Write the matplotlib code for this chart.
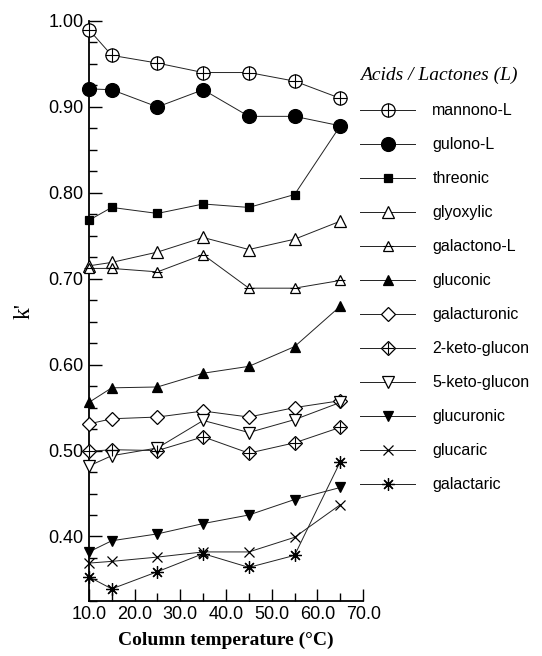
import numpy as np
import matplotlib
matplotlib.use("Agg")
from matplotlib import pyplot as plt
from matplotlib.ticker import MultipleLocator, FormatStrFormatter

plt.rcParams['font.family'] = ['Liberation Sans', 'DejaVu Sans']

temps = [10, 15, 25, 35, 45, 55, 65]

mannono_l = [0.990, 0.960, 0.951, 0.940, 0.940, 0.930, 0.910]
gulono_l = [0.921, 0.920, 0.900, 0.920, 0.889, 0.889, 0.878]
threonic = [0.768, 0.783, 0.776, 0.787, 0.783, 0.798, 0.878]
glyoxylic = [0.715, 0.719, 0.731, 0.748, 0.734, 0.746, 0.767]
galactono_l = [0.712, 0.712, 0.708, 0.728, 0.689, 0.689, 0.698]
gluconic = [0.556, 0.573, 0.574, 0.590, 0.598, 0.621, 0.668]
galacturonic = [0.531, 0.537, 0.539, 0.546, 0.539, 0.550, 0.558]
keto2_glucon = [0.499, 0.501, 0.500, 0.516, 0.497, 0.509, 0.527]
keto5_glucon = [0.482, 0.494, 0.503, 0.535, 0.521, 0.536, 0.556]
glucuronic = [0.382, 0.395, 0.403, 0.415, 0.425, 0.443, 0.457]
glucaric = [0.369, 0.371, 0.376, 0.382, 0.382, 0.399, 0.437]
galactaric = [0.353, 0.339, 0.359, 0.380, 0.364, 0.378, 0.487]

labels = ['mannono-L', 'gulono-L', 'threonic', 'glyoxylic', 'galactono-L',
          'gluconic', 'galacturonic', '2-keto-glucon', '5-keto-glucon',
          'glucuronic', 'glucaric', 'galactaric']
series = [mannono_l, gulono_l, threonic, glyoxylic, galactono_l, gluconic,
          galacturonic, keto2_glucon, keto5_glucon, glucuronic, glucaric,
          galactaric]

# marker, size, filled, extra overlay marker (or None), overlay size
styles = [
    ('o', 9.5, False, '+', 9.5),
    ('o', 10, True, None, 0),
    ('s', 6, True, None, 0),
    ('^', 8.5, False, None, 0),
    ('^', 7, False, '_', 7),
    ('^', 6.5, True, None, 0),
    ('D', 7.5, False, None, 0),
    ('D', 7.5, False, '+', 8),
    ('v', 8, False, None, 0),
    ('v', 6.5, True, None, 0),
    ('x', 7, False, None, 0),
    ((8, 2, 0), 9, False, None, 0),
]

fig = plt.figure(figsize=(5.42, 6.56), dpi=100)
ax = fig.add_axes([0.164, 0.084, 0.506, 0.884])

handles = []
for vals, (mk, ms, filled, extra, ems) in zip(series, styles):
    line, = ax.plot(temps, vals, color='#222222', lw=0.7, marker=mk, ms=ms,
                    mfc='black' if filled else 'white', mec='black', mew=0.9,
                    clip_on=False, zorder=3)
    if extra is not None:
        over, = ax.plot(temps, vals, ls='none', marker=extra, ms=ems,
                        color='black', mew=0.8, clip_on=False, zorder=4)
        handles.append((line, over))
    else:
        handles.append(line)

ax.set_xlim(10, 70)
ax.set_ylim(0.325, 1.00)
ax.xaxis.set_major_locator(MultipleLocator(10))
ax.xaxis.set_minor_locator(MultipleLocator(5))
ax.yaxis.set_major_locator(MultipleLocator(0.1))
ax.yaxis.set_minor_locator(MultipleLocator(0.025))
ax.xaxis.set_major_formatter(FormatStrFormatter('%.1f'))
ax.yaxis.set_major_formatter(FormatStrFormatter('%.2f'))
ax.tick_params(which='both', direction='in', labelsize=13, width=1.0)
ax.tick_params(which='major', length=9, pad=4)
ax.tick_params(which='minor', length=6)

for side in ('top', 'right'):
    ax.spines[side].set_visible(False)
for side in ('left', 'bottom'):
    ax.spines[side].set_linewidth(1.3)

ax.set_xlabel('Column temperature (°C)', family='Liberation Serif',
              fontweight='bold', fontsize=14, labelpad=6)
ax.set_ylabel("k'", family='Liberation Serif', fontsize=17, labelpad=10)

leg = fig.legend(handles, labels, loc='upper left',
                 bbox_to_anchor=(0.665, 0.898), frameon=False,
                 fontsize=11.5, handlelength=3.4, handletextpad=1.1,
                 labelspacing=1.19, borderpad=0, borderaxespad=0,
                 title='Acids / Lactones (L)', alignment='left')
leg.get_title().set_fontfamily('Liberation Serif')
leg.get_title().set_fontstyle('italic')
leg.get_title().set_fontsize(14)

fig.savefig('out.png', dpi=100)
